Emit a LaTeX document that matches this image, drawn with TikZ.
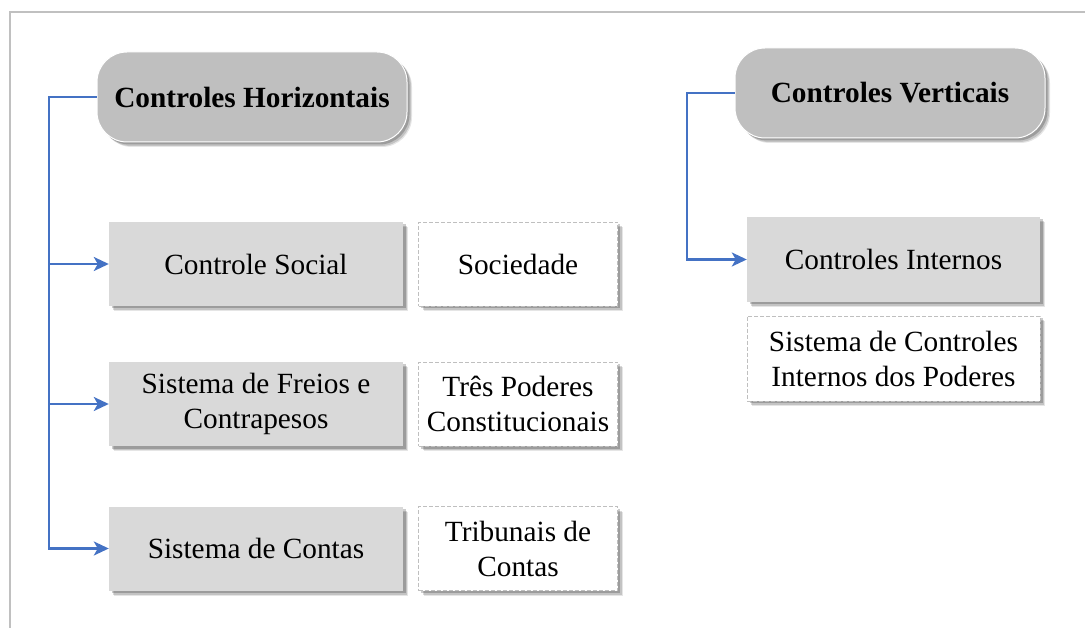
\documentclass[tikz,border=0pt]{standalone}
\usepackage{fontspec}
\setmainfont{Liberation Serif}
\usetikzlibrary{arrows.meta,shadows}
\definecolor{hdfill}{HTML}{BFBFBF}
\definecolor{bxfill}{HTML}{D9D9D9}
\definecolor{lnblue}{RGB}{68,114,196}
\definecolor{framegray}{HTML}{C0C0C0}
\definecolor{dashgray}{HTML}{BFBFBF}
\tikzset{
  softshadow/.style={
    drop shadow={shadow xshift=5pt, shadow yshift=-5pt, fill=black, opacity=0.10},
    drop shadow={shadow xshift=4pt, shadow yshift=-4pt, fill=black, opacity=0.15},
    drop shadow={shadow xshift=2.5pt, shadow yshift=-2.5pt, fill=black, opacity=0.2}},
  txt/.style={font=\fontsize{29.3}{35}\selectfont, align=center, inner sep=2pt, text=black},
  heading/.style={txt, font=\fontsize{29.3}{35}\selectfont\bfseries, rounded corners=30pt,
    fill=hdfill, draw=white, line width=1pt, minimum width=310pt, minimum height=90pt, softshadow},
  graybox/.style={txt, fill=bxfill, minimum width=294pt, minimum height=84pt, softshadow},
  dashbox/.style={txt, fill=white, draw=dashgray, dash pattern=on 4pt off 2pt, line width=0.8pt,
    minimum width=199pt, minimum height=84pt, softshadow},
  conn/.style={draw=lnblue, line width=2.5pt},
  arr/.style={conn, -{Stealth[length=15pt,width=14pt,inset=4pt]}},
  framestyle/.style={draw=framegray, line width=2pt}
}
\begin{document}
\begin{tikzpicture}[x=1pt,y=-1pt]
\useasboundingbox (0,0) rectangle (1085,628);
% frame
\draw[framestyle] (10,640) -- (10,12) -- (1095,12);
% headings
\node[heading] (ch) at (252,97) {Controles Horizontais};
\node[heading] (cv) at (890,93) {Controles Verticais};
% left column
\node[graybox] (cs) at (256,264) {Controle Social};
\node[dashbox] (soc) at (518,264) {Sociedade};
\node[graybox] (fr) at (256,404) {Sistema de Freios e\\Contrapesos};
\node[dashbox] (tp) at (518,404) {Três Poderes\\Constitucionais};
\node[graybox] (co) at (256,548.5) {Sistema de Contas};
\node[dashbox] (tr) at (518,548.5) {Tribunais de\\Contas};
% right column
\node[graybox, minimum width=293pt, minimum height=85pt] (ci) at (893.5,259.5) {Controles Internos};
\node[dashbox, minimum width=293pt, minimum height=85pt] (sci) at (893.5,358.5) {Sistema de Controles\\Internos dos Poderes};
% connectors
\coordinate (trunkL) at (49,97);
\coordinate (trunkR) at (687,93);
\draw[arr] (ch.west) -| (trunkL |- co.west) -- (co.west);
\draw[arr] (trunkL |- cs.west) -- (cs.west);
\draw[arr] (trunkL |- fr.west) -- (fr.west);
\draw[arr] (cv.west) -| (trunkR |- ci.west) -- (ci.west);
\end{tikzpicture}
\end{document}
